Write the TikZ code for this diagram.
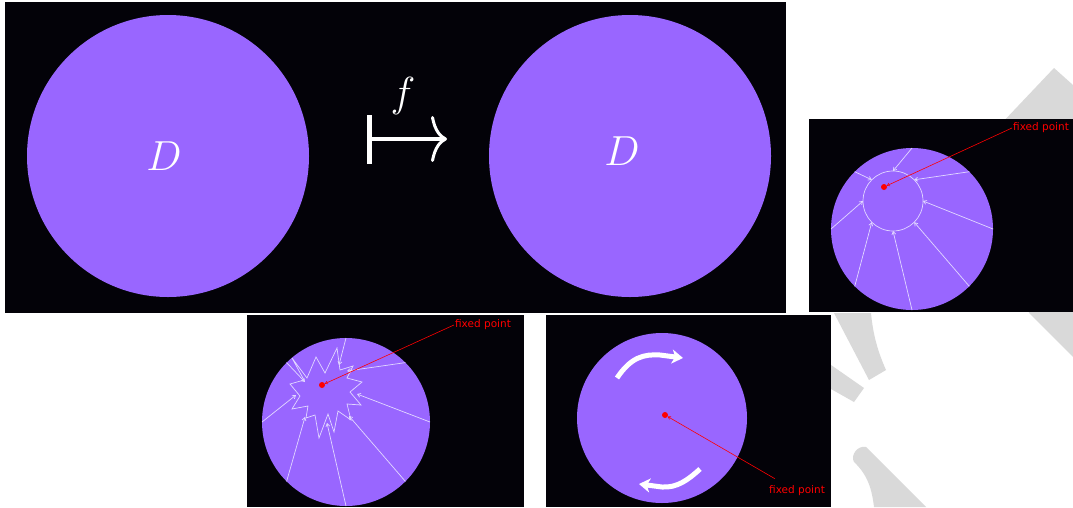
\RequirePackage{fix-cm}
\documentclass[tikz,border=0pt]{standalone}
\usepackage{fontspec}
\newfontfamily\labelfont{DejaVu Sans}
\usepackage{tikz}
\usetikzlibrary{arrows.meta}
\definecolor{panel}{HTML}{030208}
\definecolor{disk}{HTML}{9966FF}
\definecolor{ray}{HTML}{E2D8FF}
\definecolor{fixed}{HTML}{FF0000}
\definecolor{wmark}{HTML}{D9D9D9}

\begin{document}
\begin{tikzpicture}[x=1pt,y=-1pt,
  panelblk/.style={fill=panel},
  diskblk/.style={circle,fill=disk,inner sep=0pt,outer sep=0pt},
  bigmath/.style={text=white,inner sep=0pt,font=\fontsize{42}{42}\selectfont},
  rayline/.style={draw=ray,line width=0.7pt,-{Straight Barb[length=3pt,width=4pt]}},
  fixdot/.style={circle,fill=fixed,minimum size=6pt,inner sep=0pt,outer sep=0pt},
  fixlbl/.style={text=fixed,inner sep=1pt,font=\labelfont\fontsize{10.5}{12}\selectfont},
  fixline/.style={draw=fixed,line width=0.6pt,-{Straight Barb[length=2.5pt,width=3pt]}},
  turnarr/.style={draw=white,line width=5pt,-{Stealth[length=11pt,width=14pt,inset=3pt]}}]
\useasboundingbox (0,0) rectangle (1073,507);
\fill[white] (0,0) rectangle (1073,507);
% watermark behind the panels
\fill[wmark] (1054,68) -- (1073,85) -- (1073,357) -- (1029,313) -- (1000,125) -- cycle;
\fill[wmark] (834,313) -- (871,313) .. controls (873,335) and (878,352) .. (886,370) -- (869,380) -- cycle;
\fill[wmark] (831,365) -- (864,388) -- (854,402) -- (831,389) -- cycle;
\fill[wmark] (866,447) -- (926,507) -- (874,507) .. controls (872,490) and (868,475) .. (854,462) .. controls (850,455) and (858,445) .. (866,447) -- cycle;
% the map f : D -> D
\fill[panelblk] (5,2) rectangle (786,313);
\node[diskblk,minimum size=282pt] (dom) at (168,156) {};
\node[diskblk,minimum size=282pt] (cod) at (630,156) {};
\node[bigmath] (domD) at (164,156) {$D$};
\node[bigmath] (codD) at (622,151) {$D$};
\node[bigmath] (fmap) at (403,96) {$f$};
\coordinate (mapA) at (367,139);
\coordinate (mapB) at (447,139);
\draw[white,line width=4.5pt,{Bar[width=49pt]}-{Computer Modern Rightarrow[length=16pt,width=46pt,line width=3pt]}] (mapA) -- (mapB);
% shrinking onto a smaller disk
\fill[panelblk] (809,119) rectangle (1073,312);
\node[diskblk,minimum size=162pt] (shrink) at (912,229) {};
\node[circle,draw=ray,line width=0.7pt,minimum size=60pt,inner sep=0pt,outer sep=0pt] (core) at (893,201) {};
\foreach \a in {0,45,...,315}{
  \draw[rayline] (shrink.\a) -- (core.\a);
}
\node[fixdot] (fpA) at (884,187) {};
\node[fixlbl] (lblA) at (1041,128) {fixed point};
\draw[fixline] (lblA.west) -- (fpA);
% crushing onto a star
\fill[panelblk] (247,315) rectangle (524,507);
\node[diskblk,minimum size=168pt] (crush) at (346,422) {};
\draw[ray,line width=0.7pt,line join=miter] (292,358) -- (307,378) -- (316,357) -- (325,373) -- (337,348) -- (340,370)
  -- (353,366) -- (347,378) -- (362,382) -- (350,392) -- (361,405) -- (347,404) -- (351,420) -- (338,411)
  -- (334,432) -- (328,414) -- (319,438) -- (315,415) -- (306,418) -- (308,406) -- (292,409) -- (300,396)
  -- (290,384) -- (304,380) -- cycle;
\foreach \a/\x/\y in {0/357/394,45/347/371,90/339/365,135/305/382,180/296/395,225/305/417,270/327/423,315/349/416}{
  \coordinate (spike\a) at (\x,\y);
  \draw[rayline] (crush.\a) -- (spike\a);
}
\node[fixdot] (fpB) at (322,385) {};
\node[fixlbl] (lblB) at (483,325) {fixed point};
\draw[fixline] (lblB.west) -- (fpB);
% rotation
\fill[panelblk] (546,315) rectangle (831,507);
\node[diskblk,minimum size=170pt] (spin) at (662,418) {};
\draw[turnarr] (617,378) .. controls (631,357) and (644,354) .. (660,355) -- (683,358);
\draw[turnarr] (700,469) .. controls (688,480) and (677,488) .. (662,487) -- (639,484);
\node[fixdot] (fpC) at (665,415) {};
\node[fixlbl] (lblC) at (797,491) {fixed point};
\draw[fixline] ([xshift=7pt,yshift=6pt]lblC.north west) -- (fpC);
\end{tikzpicture}
\end{document}
